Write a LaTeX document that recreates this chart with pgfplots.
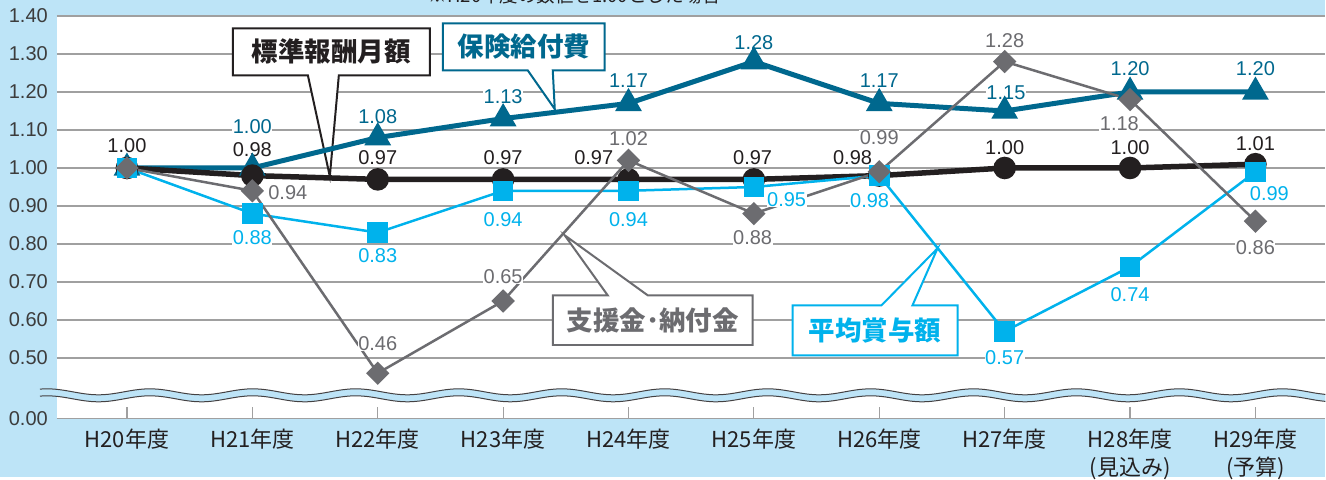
\documentclass[border=0pt]{standalone}
\usepackage{pgfplots}
\pgfplotsset{compat=1.18}
\usepackage{fontspec}
\setmainfont{Liberation Sans}
\newfontfamily\jp{Noto Sans CJK JP}
\definecolor{bgblue}{RGB}{189,228,247}
\definecolor{cblack}{RGB}{35,31,32}
\definecolor{cdark}{RGB}{0,104,142}
\definecolor{ccyan}{RGB}{0,178,236}
\definecolor{cgray}{RGB}{108,108,112}
\definecolor{cgrid}{RGB}{160,160,160}
\definecolor{ctick}{RGB}{60,60,60}
\begin{document}
\begin{tikzpicture}[
  lbl/.style={fill=white, inner sep=0.5bp, font=\fontsize{20bp}{24bp}\selectfont},
  cbox/.style={fill=white, line width=2bp, line join=miter},
  ctxt/.style={font=\jp\bfseries\fontsize{26.5bp}{30bp}\selectfont}]
\begin{scope}[x=1bp,y=1bp]
\useasboundingbox (0,0) rectangle (1326,477);
\fill[bgblue] (0,0) rectangle (1326,477);
\node[anchor=base, font=\jp\fontsize{18.5bp}{22bp}\selectfont, text=cblack] at (575,474) {※H20年度の数値を1.00とした場合};
\end{scope}
\begin{axis}[
  at={(57bp,58bp)}, anchor=south west,
  width=1269bp, height=403bp, scale only axis,
  xmin=-0.558, xmax=9.558, ymin=0.34, ymax=1.40,
  axis background/.style={fill=white},
  axis line style={draw=none},
  xtick={0,1,2,3,4,5,6,7,8,9},
  xticklabels={H20年度,H21年度,H22年度,H23年度,H24年度,H25年度,H26年度,H27年度,{H28年度\\(見込み)},{H29年度\\(予算)}},
  ytick={0.34,0.5,0.6,0.7,0.8,0.9,1.0,1.1,1.2,1.3,1.4},
  yticklabels={0.00,0.50,0.60,0.70,0.80,0.90,1.00,1.10,1.20,1.30,1.40},
  ymajorgrids, grid style={cgrid, line width=1.2bp},
  xtick pos=left, ytick pos=left, tick align=inside,
  major tick length=12bp,
  x tick style={cgrid, line width=1.2bp},
  y tick style={draw=none},
  xticklabel style={font=\jp\fontsize{22bp}{28bp}\selectfont, text=cblack, align=center, anchor=north, inner sep=0pt, yshift=-10bp},
  yticklabel style={font=\fontsize{20bp}{24bp}\selectfont, text=ctick, anchor=east, inner sep=0pt, xshift=-9bp},
]
\filldraw[cbox, draw=cblack] (axis cs:0.845,1.3676) -- (axis cs:2.415,1.3676) -- (axis cs:2.415,1.2439) -- (axis cs:1.690,1.2439) -- (axis cs:1.618,0.978) -- (axis cs:1.443,1.2439) -- (axis cs:0.845,1.2439) -- cycle;
\filldraw[cbox, draw=cdark] (axis cs:2.519,1.3808) -- (axis cs:3.810,1.3808) -- (axis cs:3.810,1.2571) -- (axis cs:3.396,1.2571) -- (axis cs:3.412,1.155) -- (axis cs:3.196,1.2571) -- (axis cs:2.519,1.2571) -- cycle;
\filldraw[cbox, draw=cgray] (axis cs:3.396,0.665) -- (axis cs:3.834,0.665) -- (axis cs:3.491,0.8229) -- (axis cs:4.153,0.665) -- (axis cs:4.990,0.665) -- (axis cs:4.990,0.5342) -- (axis cs:3.396,0.5342) -- cycle;
\filldraw[cbox, draw=ccyan] (axis cs:5.309,0.6387) -- (axis cs:6.018,0.6387) -- (axis cs:6.465,0.7887) -- (axis cs:6.265,0.6387) -- (axis cs:6.624,0.6387) -- (axis cs:6.624,0.5071) -- (axis cs:5.309,0.5071) -- cycle;
\node[ctxt, text=cblack] at (axis cs:1.630,1.3058) {標準報酬月額};
\node[ctxt, text=cdark] at (axis cs:3.165,1.319) {保険給付費};
\node[ctxt, text=cgray] at (axis cs:4.193,0.5992) {支援金･納付金};
\node[ctxt, text=ccyan] at (axis cs:5.966,0.5729) {平均賞与額};
\addplot[cdark, line width=5bp, mark=triangle*, mark size=10.5bp, mark options={solid}] coordinates {(0,1.00)(1,1.00)(2,1.08)(3,1.13)(4,1.17)(5,1.28)(6,1.17)(7,1.15)(8,1.20)(9,1.20)};
\addplot[cblack, line width=5.5bp, mark=*, mark size=8.5bp, mark options={solid}] coordinates {(0,1.00)(1,0.98)(2,0.97)(3,0.97)(4,0.97)(5,0.97)(6,0.98)(7,1.00)(8,1.00)(9,1.01)};
\addplot[ccyan, line width=2.5bp, mark=square*, mark size=9bp, mark options={solid}] coordinates {(0,1.00)(1,0.88)(2,0.83)(3,0.94)(4,0.94)(5,0.95)(6,0.98)(7,0.57)(8,0.74)(9,0.99)};
\addplot[cgray, line width=2.5bp, mark=square*, mark size=7bp, mark options={solid, rotate=45}] coordinates {(0,1.00)(1,0.94)(2,0.46)(3,0.65)(4,1.02)(5,0.88)(6,0.99)(7,1.28)(8,1.18)(9,0.86)};
% black labels
\node[lbl, text=cblack] at (axis cs:0,1.0597) {1.00};
\node[lbl, text=cblack] at (axis cs:1,1.0492) {0.98};
\node[lbl, text=cblack] at (axis cs:2,1.0282) {0.97};
\node[lbl, text=cblack] at (axis cs:3,1.0282) {0.97};
\node[lbl, text=cblack] at (axis cs:3.723,1.0282) {0.97};
\node[lbl, text=cblack] at (axis cs:4.99,1.0282) {0.97};
\node[lbl, text=cblack] at (axis cs:5.787,1.0282) {0.98};
\node[lbl, text=cblack] at (axis cs:7,1.0545) {1.00};
\node[lbl, text=cblack] at (axis cs:8,1.0545) {1.00};
\node[lbl, text=cblack] at (axis cs:9,1.065) {1.01};
% dark blue labels
\node[lbl, text=cdark] at (axis cs:1,1.1097) {1.00};
\node[lbl, text=cdark] at (axis cs:2,1.136) {1.08};
\node[lbl, text=cdark] at (axis cs:3,1.1887) {1.13};
\node[lbl, text=cdark] at (axis cs:4,1.2308) {1.17};
\node[lbl, text=cdark] at (axis cs:5,1.3308) {1.28};
\node[lbl, text=cdark] at (axis cs:6,1.2308) {1.17};
\node[lbl, text=cdark] at (axis cs:7.01,1.199) {1.15};
\node[lbl, text=cdark] at (axis cs:8,1.2624) {1.20};
\node[lbl, text=cdark] at (axis cs:9,1.2624) {1.20};
% cyan labels
\node[lbl, text=ccyan] at (axis cs:1,0.8176) {0.88};
\node[lbl, text=ccyan] at (axis cs:2,0.7703) {0.83};
\node[lbl, text=ccyan] at (axis cs:3,0.865) {0.94};
\node[lbl, text=ccyan] at (axis cs:4,0.865) {0.94};
\node[lbl, text=ccyan] at (axis cs:5.261,0.9176) {0.95};
\node[lbl, text=ccyan] at (axis cs:5.923,0.915) {0.98};
\node[lbl, text=ccyan] at (axis cs:7,0.5018) {0.57};
\node[lbl, text=ccyan] at (axis cs:8,0.6676) {0.74};
\node[lbl, text=ccyan] at (axis cs:9.111,0.9334) {0.99};
% gray labels
\node[lbl, text=cgray] at (axis cs:1.283,0.9361) {0.94};
\node[lbl, text=cgray] at (axis cs:2,0.5387) {0.46};
\node[lbl, text=cgray] at (axis cs:3,0.715) {0.65};
\node[lbl, text=cgray] at (axis cs:4,1.0782) {1.02};
\node[lbl, text=cgray] at (axis cs:4.99,0.8176) {0.88};
\node[lbl, text=cgray] at (axis cs:6,1.0808) {0.99};
\node[lbl, text=cgray] at (axis cs:7,1.3361) {1.28};
\node[lbl, text=cgray] at (axis cs:7.915,1.1176) {1.18};
\node[lbl, text=cgray] at (axis cs:9,0.7913) {0.86};
\end{axis}
\begin{scope}[x=1bp,y=1bp]
\fill[bgblue] plot[domain=40:1326, samples=150, smooth] (\x, {85+3*cos(3.4951*(\x-47))}) -- plot[domain=1326:40, samples=150, smooth] (\x, {78+3*cos(3.4951*(\x-47))}) -- cycle;
\draw[cblack!85, line width=1bp] plot[domain=40:1326, samples=150, smooth] (\x, {85+3*cos(3.4951*(\x-47))});
\draw[cblack!85, line width=1bp] plot[domain=40:1326, samples=150, smooth] (\x, {78+3*cos(3.4951*(\x-47))});
\end{scope}
\end{tikzpicture}
\end{document}
